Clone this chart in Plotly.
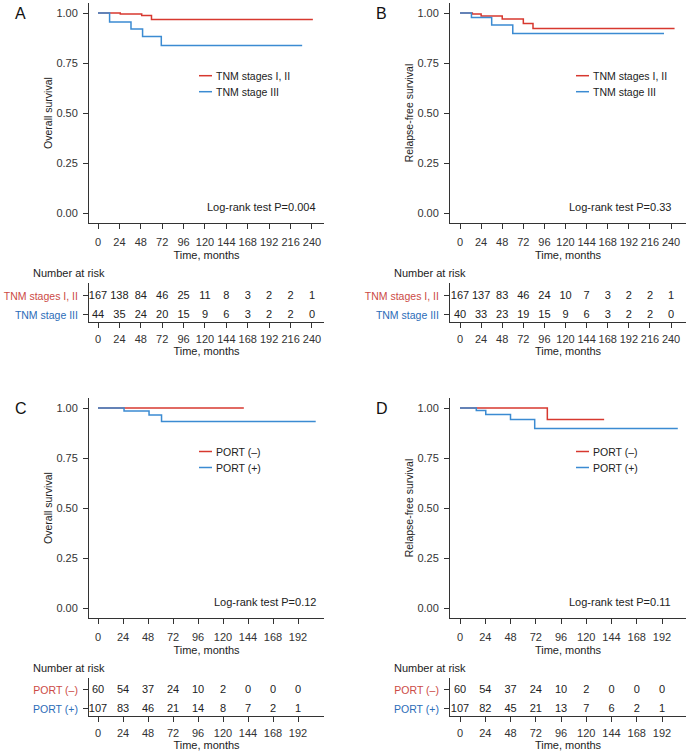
import plotly.graph_objects as go

W, H = 686, 755

# survival curves (time in months, survival probability)
a_red_t = [0, 25, 49, 60, 241]
a_red_s = [1.0, 0.995, 0.987, 0.967, 0.967]
a_blue_t = [0, 13, 37, 50, 71, 229]
a_blue_s = [1.0, 0.955, 0.92, 0.882, 0.837, 0.837]

b_red_t = [0, 14, 24, 48, 72, 83, 244]
b_red_s = [1.0, 0.995, 0.985, 0.97, 0.948, 0.923, 0.923]
b_blue_t = [0, 13, 36, 60, 232]
b_blue_s = [1.0, 0.978, 0.94, 0.898, 0.898]

c_red_t = [0, 140]
c_red_s = [1.0, 1.0]
c_blue_t = [0, 25, 49, 61, 209]
c_blue_s = [1.0, 0.985, 0.965, 0.932, 0.932]

d_red_t = [0, 83, 137]
d_red_s = [1.0, 0.943, 0.943]
d_blue_t = [0, 15.5, 24.5, 48, 71, 207]
d_blue_s = [1.0, 0.988, 0.967, 0.943, 0.897, 0.897]

# number at risk tables
ticks_240 = [0, 24, 48, 72, 96, 120, 144, 168, 192, 216, 240]
ticks_192 = [0, 24, 48, 72, 96, 120, 144, 168, 192]
a_risk_red = [167, 138, 84, 46, 25, 11, 8, 3, 2, 2, 1]
a_risk_blue = [44, 35, 24, 20, 15, 9, 6, 3, 2, 2, 0]
b_risk_red = [167, 137, 83, 46, 24, 10, 7, 3, 2, 2, 1]
b_risk_blue = [40, 33, 23, 19, 15, 9, 6, 3, 2, 2, 0]
c_risk_red = [60, 54, 37, 24, 10, 2, 0, 0, 0]
c_risk_blue = [107, 83, 46, 21, 14, 8, 7, 2, 1]
d_risk_red = [60, 54, 37, 24, 10, 2, 0, 0, 0]
d_risk_blue = [107, 82, 45, 21, 13, 7, 6, 2, 1]

stage_names = ["TNM stages I, II", "TNM stage III"]
port_names = ["PORT (–)", "PORT (+)"]
p_values = ["Log-rank test P=0.004", "Log-rank test P=0.33",
            "Log-rank test P=0.12", "Log-rank test P=0.11"]

RED = "#d7382f"
BLUE = "#3b8bd2"
RED_TXT = "#cc4a45"
BLUE_TXT = "#2b6cb8"
FONT = "Liberation Sans, Arial, sans-serif"
AXIS_COL = "#333333"


def px_x(x):
    return x / W


def px_y(y):
    return 1 - y / H


panels = [
    dict(letter="A", ytitle="Overall survival", names=stage_names, ticks=ticks_240,
         red=(a_red_t, a_red_s), blue=(a_blue_t, a_blue_s), risk=(a_risk_red, a_risk_blue),
         x0=89, x1=324, top=3, bottom=223, xr=[-10.1, 253.5], rtop=283, rbot=322, ryr=[0.63, 2.68],
         leg_x=199, leg_y=75.7, p_y=207),
    dict(letter="B", ytitle="Relapse-free survival", names=stage_names, ticks=ticks_240,
         red=(b_red_t, b_red_s), blue=(b_blue_t, b_blue_s), risk=(b_risk_red, b_risk_blue),
         x0=450, x1=686, top=3, bottom=223, xr=[-11.4, 257], rtop=283, rbot=322, ryr=[0.63, 2.68],
         leg_x=576, leg_y=75.7, p_y=207),
    dict(letter="C", ytitle="Overall survival", names=port_names, ticks=ticks_192,
         red=(c_red_t, c_red_s), blue=(c_blue_t, c_blue_s), risk=(c_risk_red, c_risk_blue),
         x0=89, x1=324, top=398, bottom=618, xr=[-8.64, 216.96], rtop=678, rbot=716, ryr=[0.63, 2.63],
         leg_x=199, leg_y=451.5, p_y=602),
    dict(letter="D", ytitle="Relapse-free survival", names=port_names, ticks=ticks_192,
         red=(d_red_t, d_red_s), blue=(d_blue_t, d_blue_s), risk=(d_risk_red, d_risk_blue),
         x0=450, x1=686, top=398, bottom=618, xr=[-9.5, 214.8], rtop=678, rbot=716, ryr=[0.63, 2.63],
         leg_x=576, leg_y=451.5, p_y=602),
]

fig = go.Figure()
layout = {}
annotations = []
shapes = []

tick_font = dict(family=FONT, size=11, color=AXIS_COL)
title_font = dict(family=FONT, size=11, color="#222222")
small_font = dict(family=FONT, size=10.5, color="#222222")

for i, p in enumerate(panels):
    m = 2 * i + 1   # main plot axis number
    r = 2 * i + 2   # risk table axis number
    mx = "x" if m == 1 else f"x{m}"
    my = "y" if m == 1 else f"y{m}"
    rx, ry = f"x{r}", f"y{r}"
    xdom = [px_x(p["x0"]), px_x(p["x1"])]

    # survival curves
    for (t, s), col, name in [(p["red"], RED, p["names"][0]), (p["blue"], BLUE, p["names"][1])]:
        fig.add_trace(go.Scatter(x=t, y=s, mode="lines", line=dict(color=col, width=1.5, shape="hv"),
                                 name=name, showlegend=False, xaxis=mx, yaxis=my))

    # number at risk
    for vals, yrow in [(p["risk"][0], 2), (p["risk"][1], 1)]:
        fig.add_trace(go.Scatter(x=p["ticks"], y=[yrow] * len(vals), mode="text",
                                 text=[str(v) for v in vals],
                                 textfont=dict(family=FONT, size=11, color="#222222"),
                                 showlegend=False, hoverinfo="skip", xaxis=rx, yaxis=ry))

    common_x = dict(range=p["xr"], tickvals=p["ticks"], showline=True, linecolor=AXIS_COL,
                    linewidth=1, ticks="outside", ticklen=5, tickcolor=AXIS_COL, showgrid=False,
                    zeroline=False, tickfont=tick_font, domain=xdom, ticklabelstandoff=4,
                    title=dict(text="Time, months", font=title_font, standoff=4))
    layout["xaxis" if m == 1 else f"xaxis{m}"] = dict(common_x, anchor=my)
    layout[f"xaxis{r}"] = dict(common_x, anchor=ry, ticklabelstandoff=2, title=dict(
        text="Time, months", font=title_font, standoff=3))

    layout["yaxis" if m == 1 else f"yaxis{m}"] = dict(
        range=[-0.05, 1.05], tickvals=[0, 0.25, 0.5, 0.75, 1.0], tickformat=".2f",
        showline=True, linecolor=AXIS_COL, linewidth=1, ticks="outside", ticklen=5,
        tickcolor=AXIS_COL, showgrid=False, zeroline=False, tickfont=tick_font,
        ticklabelstandoff=3,
        domain=[px_y(p["bottom"]), px_y(p["top"])], anchor=mx,
        title=dict(text=p["ytitle"], font=small_font, standoff=1))

    layout[f"yaxis{r}"] = dict(
        range=p["ryr"], tickvals=[2, 1],
        ticktext=[f'<span style="color:{RED_TXT}">{p["names"][0]}</span>',
                  f'<span style="color:{BLUE_TXT}">{p["names"][1]}</span>'],
        showline=True, linecolor=AXIS_COL, linewidth=1, ticks="outside", ticklen=5,
        tickcolor=AXIS_COL, showgrid=False, zeroline=False, ticklabelstandoff=3,
        tickfont=dict(family=FONT, size=10.5, color=AXIS_COL),
        domain=[px_y(p["rbot"]), px_y(p["rtop"])], anchor=rx)

    # panel letter
    annotations.append(dict(text=p["letter"], x=px_x(p["x0"] - 76), y=px_y(p["top"] + 10),
                            xref="paper", yref="paper", xanchor="left", yanchor="middle",
                            showarrow=False, font=dict(family=FONT, size=16, color="#111111")))
    # p-value
    annotations.append(dict(text=p_values[i], x=px_x(p["x0"] + (229 if i % 2 == 0 else 223)),
                            y=px_y(p["p_y"]), xref="paper", yref="paper", xanchor="right",
                            yanchor="middle", showarrow=False, font=title_font))
    # "Number at risk"
    annotations.append(dict(text="Number at risk", x=px_x(p["x0"] - 58), y=px_y(p["rtop"] - 10),
                            xref="paper", yref="paper", xanchor="left", yanchor="middle",
                            showarrow=False, font=title_font))
    # legend drawn by hand (short line samples like the original)
    for k, col in enumerate([RED, BLUE]):
        ly = p["leg_y"] + 16 * k
        shapes.append(dict(type="line", xref="paper", yref="paper",
                           x0=px_x(p["leg_x"]), x1=px_x(p["leg_x"] + 13), y0=px_y(ly), y1=px_y(ly),
                           line=dict(color=col, width=1.5)))
        annotations.append(dict(text=p["names"][k], x=px_x(p["leg_x"] + 15), y=px_y(ly),
                                xref="paper", yref="paper", xanchor="left", yanchor="middle",
                                showarrow=False, font=small_font))

fig.update_layout(
    width=W, height=H,
    margin=dict(l=0, r=0, t=0, b=0),
    paper_bgcolor="white", plot_bgcolor="white",
    showlegend=False,
    annotations=annotations, shapes=shapes,
    **layout
)

# the page body has a default 8px margin; drop it so the figure fills the window
fig.write_html("out.html", config={"displayModeBar": False},
               post_script="document.body.style.margin='0';")
